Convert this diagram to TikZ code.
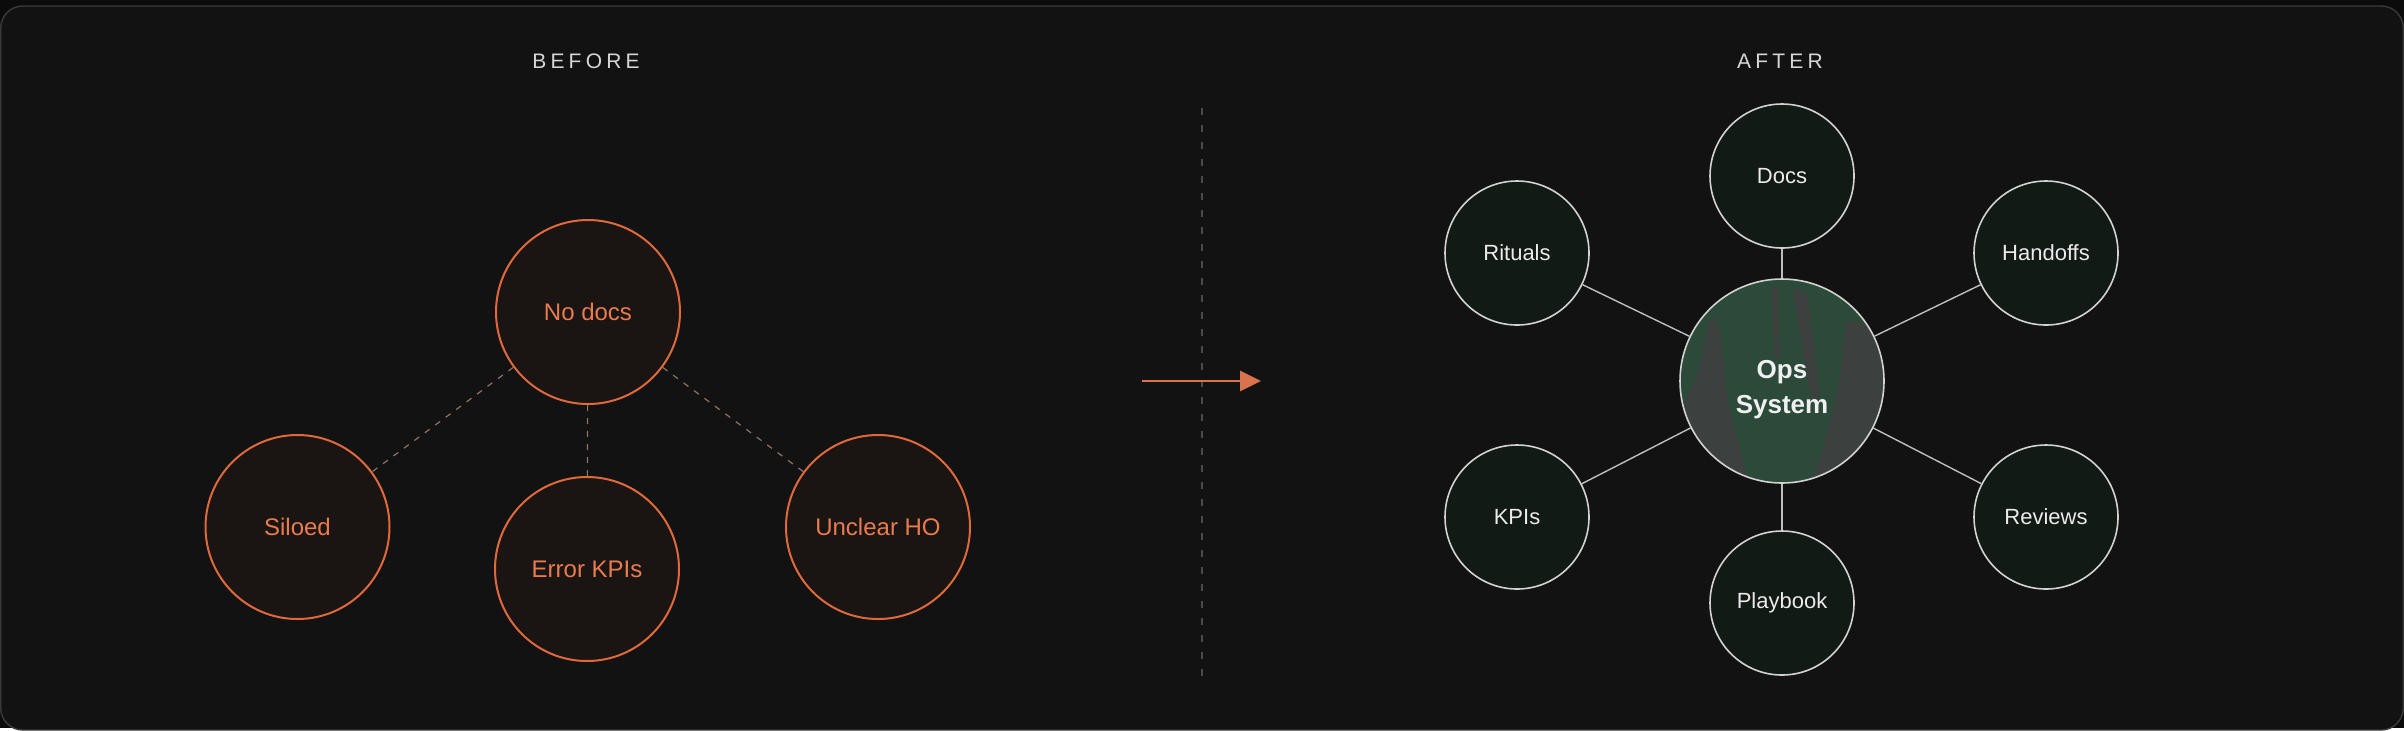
\documentclass[tikz,border=0pt]{standalone}
\usepackage{fontspec}
\setmainfont{Liberation Sans}
\newfontfamily\headfont[LetterSpace=20]{Liberation Sans}
\usepackage{tikz}
\usetikzlibrary{arrows.meta}
\usetikzlibrary{positioning}

\definecolor{pageout}{HTML}{0B0B0B}
\definecolor{pagein}{HTML}{121212}
\definecolor{framegray}{HTML}{3A3A3A}
\definecolor{headgray}{HTML}{D6D6D6}
\definecolor{rust}{HTML}{E0693B}
\definecolor{rusttext}{HTML}{E97C4E}
\definecolor{rustfill}{HTML}{1A1412}
\definecolor{rustdash}{HTML}{8C7468}
\definecolor{arrowrust}{HTML}{D9734E}
\definecolor{pinegray}{HTML}{D2D2D2}
\definecolor{pinefill}{HTML}{121A16}
\definecolor{hubgreen}{HTML}{2C4A3A}
\definecolor{hubstreak}{HTML}{3C403E}
\definecolor{spokegray}{HTML}{BEBEBE}
\definecolor{dividergray}{HTML}{4A4A4A}

\begin{document}
\begin{tikzpicture}[x=0.5pt,y=-0.5pt,
  before node/.style={circle,draw=rust,line width=1pt,fill=rustfill,
    minimum size=92pt,inner sep=0pt,text=rusttext,font=\fontsize{12}{14}\selectfont},
  after node/.style={circle,draw=pinegray,line width=0.8pt,fill=pinefill,
    minimum size=72pt,inner sep=0pt,text=white!92!black,font=\fontsize{11}{13}\selectfont},
  hub node/.style={circle,draw=pinegray,line width=0.8pt,
    minimum size=102pt,inner sep=0pt,align=center,text=white!94!black,
    font=\fontsize{13}{17.5}\selectfont\bfseries},
  head label/.style={text=headgray,font=\fontsize{10.5}{12}\headfont},
  weak link/.style={draw=rustdash,line width=0.6pt,dash pattern=on 3pt off 3.5pt},
  spoke/.style={draw=spokegray,line width=0.7pt},
  flow arrow/.style={draw=arrowrust,line width=1.4pt,
    -{Triangle[length=10.5pt,width=10pt]}}]

  % page and frame
  \fill[pageout] (0,0) rectangle (2404,728);
  \draw[fill=pagein,draw=framegray,line width=0.7pt,rounded corners=11pt]
    (0.75,6) rectangle (2403.25,730);
  \useasboundingbox (0,0) rectangle (2404,728);

  % headings
  \node[head label] (before) at (586,61) {BEFORE};
  \node[head label] (after) at (1780,61) {AFTER};

  % before: scattered problems
  \node[before node] (nodocs) at (588,312) {No docs};
  \node[before node] (siloed) at (297.5,527) {Siloed};
  \node[before node] (errkpi) at (587,569) {Error KPIs};
  \node[before node] (unclear) at (878,527) {Unclear HO};

  \path[weak link]
    (nodocs) edge (siloed)
    (nodocs) edge (errkpi)
    (nodocs) edge (unclear);

  % divider and arrow
  \coordinate (divider top) at (1202,108);
  \coordinate (divider bottom) at (1202,682);
  \draw[dividergray,line width=0.9pt,dash pattern=on 3.5pt off 5pt]
    (divider top) -- (divider bottom);

  \coordinate (arrow tail) at (1142,381);
  \coordinate (arrow tip) at (1261,381);
  \draw[flow arrow] (arrow tail) -- (arrow tip);

  % after: one ops system, green disc with dark streaks
  \fill[hubgreen] (1782,381) circle (102);
  \begin{scope}
    \clip (1782,381) circle (102);
    \fill[hubstreak] (1713,317) .. controls (1725,330) and (1722,360) .. (1728,400)
      .. controls (1733,430) and (1742,455) .. (1748,478) -- (1690,478) -- (1670,420)
      .. controls (1690,400) and (1700,370) .. (1705,340)
      .. controls (1707,325) and (1709,318) .. (1713,317) -- cycle;
    \fill[hubstreak] (1771,288) -- (1778,287) -- (1780,357) -- (1774,358) -- cycle;
    \fill[hubstreak] (1793,290) .. controls (1800,287) and (1806,290) .. (1808,300)
      .. controls (1812,330) and (1818,370) .. (1820,397) -- (1812,400)
      .. controls (1806,370) and (1798,330) .. (1793,290) -- cycle;
    \fill[hubstreak] (1847,322) .. controls (1860,318) and (1872,325) .. (1880,340)
      -- (1895,478) -- (1813,478) .. controls (1825,440) and (1838,400) .. (1842,360)
      .. controls (1843,340) and (1844,328) .. (1847,322) -- cycle;
  \end{scope}
  \node[hub node] (ops) at (1782,381) {\rule{0pt}{18pt}Ops\\System};

  \node[after node] (docs) at (1782,176) {Docs};
  \node[after node] (rituals) at (1517,253) {Rituals};
  \node[after node] (handoffs) at (2046,253) {Handoffs};
  \node[after node] (kpis) at (1517,517) {KPIs};
  \node[after node] (reviews) at (2046,517) {Reviews};
  \node[after node] (playbook) at (1782,603) {Playbook};

  \path[spoke]
    (ops) edge (docs)
    (ops) edge (rituals)
    (ops) edge (handoffs)
    (ops) edge (kpis)
    (ops) edge (reviews)
    (ops) edge (playbook);
\end{tikzpicture}
\end{document}
